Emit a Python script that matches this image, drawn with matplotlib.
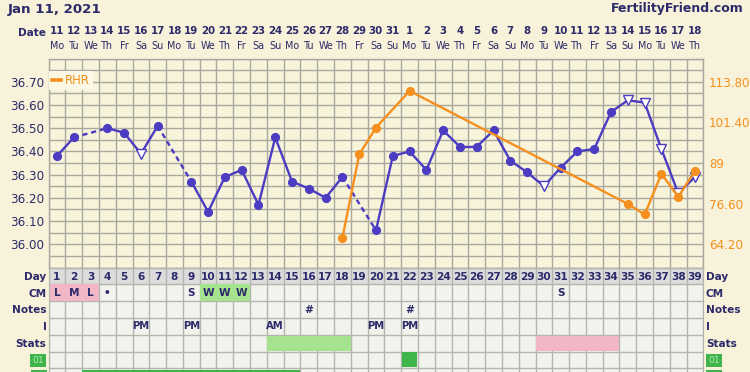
import numpy as np
import matplotlib
matplotlib.use("Agg")
import matplotlib.pyplot as plt
from matplotlib.transforms import blended_transform_factory as btf
from matplotlib.lines import Line2D
from matplotlib.patches import Rectangle

# ---------------- data ----------------
title_text = "Jan 11, 2021"
site_text = "FertilityFriend.com"

cycle_days = [1, 2, 3, 4, 5, 6, 7, 8, 9, 10, 11, 12, 13, 14, 15, 16, 17, 18, 19, 20,
              21, 22, 23, 24, 25, 26, 27, 28, 29, 30, 31, 32, 33, 34, 35, 36, 37, 38, 39]
date_nums = [11, 12, 13, 14, 15, 16, 17, 18, 19, 20, 21, 22, 23, 24, 25, 26, 27, 28, 29, 30,
             31, 1, 2, 3, 4, 5, 6, 7, 8, 9, 10, 11, 12, 13, 14, 15, 16, 17, 18]
weekdays = ["Mo", "Tu", "We", "Th", "Fr", "Sa", "Su", "Mo", "Tu", "We", "Th", "Fr", "Sa",
            "Su", "Mo", "Tu", "We", "Th", "Fr", "Sa", "Su", "Mo", "Tu", "We", "Th", "Fr",
            "Sa", "Su", "Mo", "Tu", "We", "Th", "Fr", "Sa", "Su", "Mo", "Tu", "We", "Th"]

temp_days = [1, 2, 4, 5, 6, 7, 9, 10, 11, 12, 13, 14, 15, 16, 17, 18, 20, 21, 22, 23,
             24, 25, 26, 27, 28, 29, 30, 31, 32, 33, 34, 35, 36, 37, 38, 39]
temp_vals = [36.38, 36.46, 36.50, 36.48, 36.39, 36.51, 36.27, 36.14, 36.29, 36.32,
             36.17, 36.46, 36.27, 36.24, 36.20, 36.29, 36.06, 36.38, 36.40, 36.32,
             36.49, 36.42, 36.42, 36.49, 36.36, 36.31, 36.25, 36.33, 36.40, 36.41,
             36.57, 36.62, 36.61, 36.41, 36.22, 36.29]
temp_open_days = [6, 30, 35, 36, 37, 38, 39]

rhr_days = [18, 19, 20, 22, 35, 36, 37, 38, 39]
rhr_vals = [66.2, 91.6, 99.8, 111.0, 76.5, 73.3, 85.7, 78.7, 86.6]

temp_ticks = [36.00, 36.10, 36.20, 36.30, 36.40, 36.50, 36.60, 36.70]
temp_tick_labels = ["36.00", "36.10", "36.20", "36.30", "36.40", "36.50", "36.60", "36.70"]
rhr_ticks = [64.2, 76.6, 89.0, 101.4, 113.8]
rhr_tick_labels = ["64.20", "76.60", "89", "101.40", "113.80"]

row_labels = ["Day", "CM", "Notes", "I", "Stats"]

cm_days = [1, 2, 3, 4, 9, 10, 11, 12, 31]
cm_text = ["L", "M", "L", "\u2022", "S", "W", "W", "W", "S"]
cm_fill = ["pink", "pink", "pink", None, None, "green", "green", "green", None]

notes_days = [16, 22]
notes_text = ["#", "#"]

i_days = [6, 9, 14, 20, 22]
i_text = ["PM", "PM", "AM", "PM", "PM"]

stats_green_days = [14, 15, 16, 17, 18]
stats_pink_days = [30, 31, 32, 33, 34]

row01_days = [22]
row02_days = [3, 4, 5, 6, 7, 8, 9, 10, 11, 12, 13, 14, 15]

# ---------------- style ----------------
PAGE = "#f7f2d9"
CHART = "#f8f4dc"
NAVY = "#2c2a6a"
BLUE = "#4b3cc2"
ORANGE = "#f5901e"
GRID = "#aaa89e"
TGRID = "#b4b4b0"
PINK = "#f2b7c7"
LGREEN = "#a6e38e"
DGREEN = "#3db54b"
DAYROW = "#dcdcdc"
TROW = "#f3f3ee"

plt.rcParams["font.family"] = ["DejaVu Sans"]

W_PX, H_PX = 750, 372
fig = plt.figure(figsize=(7.5, 3.72), dpi=100, facecolor=PAGE)

x_left, x_right = 48.6, 703.4
y_top, y_bot = 58.5, 267.5
L = x_left / W_PX
Wd = (x_right - x_left) / W_PX
ax = fig.add_axes([L, 1 - y_bot / H_PX, Wd, (y_bot - y_top) / H_PX])
ax.set_facecolor(CHART)
ax.set_xlim(0.5, 39.5)
ax.set_ylim(35.90, 36.80)
ax.set_xticks([])
ax.set_xticks(np.arange(0.5, 40, 1), minor=True)
ax.set_yticks(temp_ticks)
ax.set_yticklabels(temp_tick_labels)
ax.set_yticks(np.arange(35.90, 36.81, 0.05), minor=True)
ax.grid(True, which="both", color=GRID, lw=1.0)
ax.set_axisbelow(True)
ax.tick_params(which="both", length=0)
ax.tick_params(axis="y", labelsize=8.6, labelcolor=NAVY, pad=3)
for s in ax.spines.values():
    s.set_color(GRID)
    s.set_linewidth(1.0)

# temperature line: solid between consecutive days, dashed across gaps
for (d0, v0), (d1, v1) in zip(zip(temp_days[:-1], temp_vals[:-1]), zip(temp_days[1:], temp_vals[1:])):
    ls = "-" if d1 - d0 == 1 else (0, (2.2, 1.6))
    ax.plot([d0, d1], [v0, v1], color=BLUE, lw=1.7, ls=ls, zorder=3, solid_capstyle="round")
closed_d = [d for d in temp_days if d not in temp_open_days]
closed_v = [v for d, v in zip(temp_days, temp_vals) if d not in temp_open_days]
open_d = [d for d in temp_days if d in temp_open_days]
open_v = [v for d, v in zip(temp_days, temp_vals) if d in temp_open_days]
ax.plot(closed_d, closed_v, "o", color=BLUE, ms=5.6, zorder=4)
ax.plot(open_d, open_v, "v", mfc="white", mec=BLUE, mew=1.0, ms=6.6, zorder=4)

# RHR on twin axis
ax2 = ax.twinx()
ax2.set_ylim(57.114, 120.886)
ax2.set_yticks(rhr_ticks)
ax2.set_yticklabels(rhr_tick_labels)
ax2.tick_params(length=0, labelsize=8.6, labelcolor=ORANGE, pad=4)
for s in ax2.spines.values():
    s.set_visible(False)
ax2.plot(rhr_days, rhr_vals, "-", color=ORANGE, lw=1.7, zorder=3)
ax2.plot(rhr_days, rhr_vals, "o", color=ORANGE, ms=5.6, zorder=4)
leg = ax2.legend([Line2D([0], [0], color=ORANGE, lw=2.6)], ["RHR"], loc="upper left",
                 bbox_to_anchor=(0.001, 0.94), borderaxespad=0, fontsize=8.3,
                 handlelength=0.8, handletextpad=0.3, borderpad=0.25, frameon=True,
                 fancybox=False, framealpha=1)
leg.get_frame().set_facecolor("#fbf8e6")
leg.get_frame().set_edgecolor("none")
for t in leg.get_texts():
    t.set_color(ORANGE)

# ---------------- header ----------------
fig.text(7.5 / W_PX, 1 - 10 / H_PX, title_text, fontsize=9.6, fontweight="bold",
         color=NAVY, ha="left", va="center")
fig.text(744 / W_PX, 1 - 8.5 / H_PX, site_text, fontsize=9.0, fontweight="bold",
         color=NAVY, ha="right", va="center")
fig.text(46 / W_PX, 1 - 33.5 / H_PX, "Date", fontsize=7.6, fontweight="bold",
         color=NAVY, ha="right", va="center")
th = btf(ax.transData, fig.transFigure)
for d, n, w in zip(cycle_days, date_nums, weekdays):
    ax.text(d, 1 - 31 / H_PX, str(n), transform=th, fontsize=7.4, fontweight="bold",
            color=NAVY, ha="center", va="center")
    ax.text(d, 1 - 46 / H_PX, w, transform=th, fontsize=6.9, color=NAVY,
            ha="center", va="center")

# ---------------- table ----------------
row_h = 16.8
n_rows = 7
tb_bottom_px = y_bot + n_rows * row_h
tb = fig.add_axes([L, 1 - tb_bottom_px / H_PX, Wd, n_rows * row_h / H_PX])
tb.set_xlim(0.5, 39.5)
tb.set_ylim(n_rows, 0)
tb.set_facecolor(TROW)
tb.set_xticks([])
tb.set_yticks([])
tb.set_xticks(np.arange(0.5, 40, 1), minor=True)
tb.set_yticks(np.arange(0, n_rows + 1, 1), minor=True)
tb.grid(True, which="minor", color=TGRID, lw=1.0)
tb.set_axisbelow(True)
tb.tick_params(which="both", length=0)
for s in tb.spines.values():
    s.set_color(TGRID)
tb.axhspan(0, 1, color=DAYROW, zorder=0.1)

# Day numbers
for d in cycle_days:
    tb.text(d, 0.55, str(d), fontsize=7.6, fontweight="bold", color=NAVY,
            ha="center", va="center")
# CM row
fillmap = {"pink": PINK, "green": LGREEN}
for d, t, f in zip(cm_days, cm_text, cm_fill):
    if f is not None:
        tb.bar(d, 1, bottom=1, width=1.0, color=fillmap[f], zorder=1)
    tb.text(d, 1.5, t, fontsize=7.6, fontweight="bold", color=NAVY,
            ha="center", va="center", zorder=3)
# Notes
for d, t in zip(notes_days, notes_text):
    tb.text(d, 2.5, t, fontsize=7.6, fontweight="bold", color=NAVY,
            ha="center", va="center")
# I row
for d, t in zip(i_days, i_text):
    tb.text(d, 3.5, t, fontsize=7.2, fontweight="bold", color=NAVY,
            ha="center", va="center")
# Stats
tb.bar(stats_green_days, 0.9, bottom=4.05, width=1.0, color=LGREEN, zorder=1)
tb.bar(stats_pink_days, 0.9, bottom=4.05, width=1.0, color=PINK, zorder=1)
# 01 row and next row
tb.bar(row01_days, 0.9, bottom=5.05, width=0.92, color=DGREEN, zorder=1)
tb.bar(row02_days, 0.9, bottom=6.1, width=1.0, color=DGREEN, zorder=1)

# row labels
tl = btf(fig.transFigure, tb.transData)
for i, lab in enumerate(row_labels):
    tb.text(46.5 / W_PX, i + 0.55, lab, transform=tl, fontsize=7.6, fontweight="bold",
            color=NAVY, ha="right", va="center", clip_on=False)
    tb.text(706 / W_PX, i + 0.55, lab, transform=tl, fontsize=7.6, fontweight="bold",
            color=NAVY, ha="left", va="center", clip_on=False)
tb.text(44 / W_PX, 5.55, "01", transform=tl, fontsize=6.6, color="#b5e6b0",
        ha="right", va="center", clip_on=False,
        bbox=dict(facecolor=DGREEN, edgecolor="none", pad=1.6))
tb.text(708 / W_PX, 5.55, "01", transform=tl, fontsize=6.6, color="#b5e6b0",
        ha="left", va="center", clip_on=False,
        bbox=dict(facecolor=DGREEN, edgecolor="none", pad=1.6))
# partially visible label boxes of the next row (cut at the bottom edge)
for x0 in (31 / W_PX, 706 / W_PX):
    tb.add_patch(Rectangle((x0, 6.1), 15.5 / W_PX, 0.9, transform=tl,
                           facecolor=DGREEN, edgecolor="none", clip_on=False))

fig.savefig("out.png", dpi=100, facecolor=PAGE)
